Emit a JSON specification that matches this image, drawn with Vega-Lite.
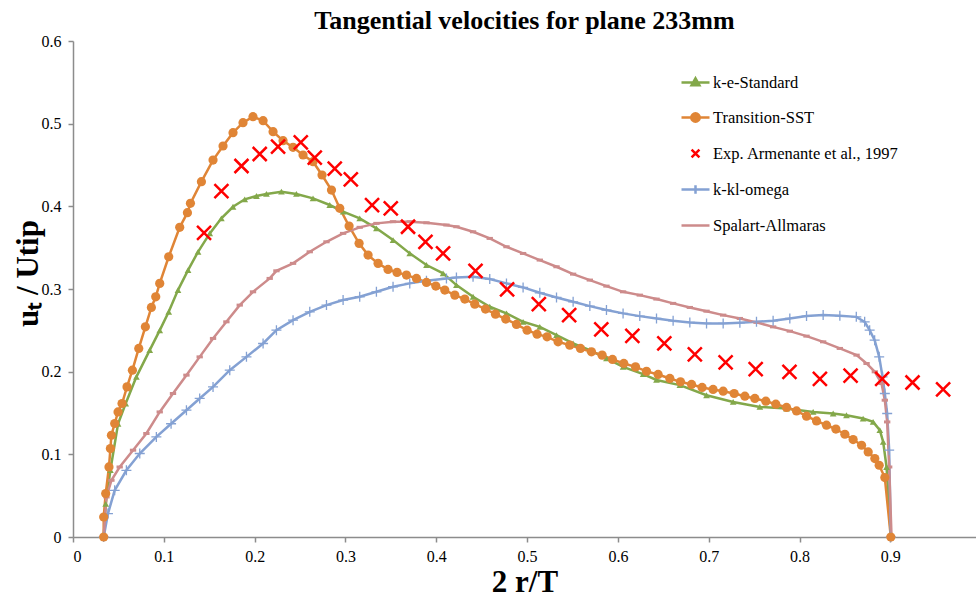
{
  "$schema": "https://vega.github.io/schema/vega-lite/v6.json",
  "autosize": {"type": "none"},
  "padding": {"left": 73, "top": 41, "right": 0, "bottom": 60},
  "width": 903,
  "height": 496,
  "background": "white",
  "config": {
    "font": "Liberation Serif",
    "view": {"stroke": null},
    "axis": {
      "grid": false,
      "domainColor": "#8c8c8c",
      "domainWidth": 1.5,
      "tickColor": "#8c8c8c",
      "tickWidth": 1.5,
      "tickSize": 5,
      "labelColor": "#000000",
      "labelFont": "Liberation Serif",
      "labelFontSize": 16,
      "titleFont": "Liberation Serif",
      "titleFontSize": 31,
      "titleFontWeight": "bold",
      "titleColor": "#000000"
    }
  },
  "title": {
    "text": "Tangential velocities for plane 233mm",
    "font": "Liberation Serif",
    "fontSize": 26,
    "fontWeight": "bold",
    "color": "#000000",
    "anchor": "middle",
    "offset": -1
  },
  "data": {
    "values": [
      {"series": "k-e-Standard", "x": 0.0338, "y": 0},
      {"series": "k-e-Standard", "x": 0.036, "y": 0.04},
      {"series": "k-e-Standard", "x": 0.0412, "y": 0.081},
      {"series": "k-e-Standard", "x": 0.0496, "y": 0.137},
      {"series": "k-e-Standard", "x": 0.058, "y": 0.1615},
      {"series": "k-e-Standard", "x": 0.0698, "y": 0.1937},
      {"series": "k-e-Standard", "x": 0.0845, "y": 0.226},
      {"series": "k-e-Standard", "x": 0.0955, "y": 0.25},
      {"series": "k-e-Standard", "x": 0.1054, "y": 0.2724},
      {"series": "k-e-Standard", "x": 0.1156, "y": 0.2987},
      {"series": "k-e-Standard", "x": 0.1267, "y": 0.3229},
      {"series": "k-e-Standard", "x": 0.1377, "y": 0.345},
      {"series": "k-e-Standard", "x": 0.1506, "y": 0.3673},
      {"series": "k-e-Standard", "x": 0.1634, "y": 0.3855},
      {"series": "k-e-Standard", "x": 0.1762, "y": 0.3995},
      {"series": "k-e-Standard", "x": 0.1891, "y": 0.4085},
      {"series": "k-e-Standard", "x": 0.202, "y": 0.4125},
      {"series": "k-e-Standard", "x": 0.213, "y": 0.415},
      {"series": "k-e-Standard", "x": 0.2295, "y": 0.4177},
      {"series": "k-e-Standard", "x": 0.246, "y": 0.415},
      {"series": "k-e-Standard", "x": 0.2643, "y": 0.4097},
      {"series": "k-e-Standard", "x": 0.2827, "y": 0.4016},
      {"series": "k-e-Standard", "x": 0.2974, "y": 0.3935},
      {"series": "k-e-Standard", "x": 0.3157, "y": 0.3855},
      {"series": "k-e-Standard", "x": 0.3341, "y": 0.3734},
      {"series": "k-e-Standard", "x": 0.3524, "y": 0.3592},
      {"series": "k-e-Standard", "x": 0.3708, "y": 0.3431},
      {"series": "k-e-Standard", "x": 0.3892, "y": 0.329},
      {"series": "k-e-Standard", "x": 0.4075, "y": 0.319},
      {"series": "k-e-Standard", "x": 0.4222, "y": 0.3047},
      {"series": "k-e-Standard", "x": 0.4405, "y": 0.2906},
      {"series": "k-e-Standard", "x": 0.4589, "y": 0.2785},
      {"series": "k-e-Standard", "x": 0.4773, "y": 0.2705},
      {"series": "k-e-Standard", "x": 0.4956, "y": 0.2603},
      {"series": "k-e-Standard", "x": 0.514, "y": 0.2542},
      {"series": "k-e-Standard", "x": 0.5324, "y": 0.2442},
      {"series": "k-e-Standard", "x": 0.5507, "y": 0.2341},
      {"series": "k-e-Standard", "x": 0.5691, "y": 0.226},
      {"series": "k-e-Standard", "x": 0.5874, "y": 0.216},
      {"series": "k-e-Standard", "x": 0.6057, "y": 0.2058},
      {"series": "k-e-Standard", "x": 0.6278, "y": 0.197},
      {"series": "k-e-Standard", "x": 0.6425, "y": 0.19},
      {"series": "k-e-Standard", "x": 0.6682, "y": 0.1837},
      {"series": "k-e-Standard", "x": 0.6976, "y": 0.1715},
      {"series": "k-e-Standard", "x": 0.7269, "y": 0.1634},
      {"series": "k-e-Standard", "x": 0.7563, "y": 0.1574},
      {"series": "k-e-Standard", "x": 0.7857, "y": 0.1554},
      {"series": "k-e-Standard", "x": 0.815, "y": 0.1513},
      {"series": "k-e-Standard", "x": 0.837, "y": 0.1494},
      {"series": "k-e-Standard", "x": 0.8517, "y": 0.1473},
      {"series": "k-e-Standard", "x": 0.87, "y": 0.1433},
      {"series": "k-e-Standard", "x": 0.881, "y": 0.1392},
      {"series": "k-e-Standard", "x": 0.8884, "y": 0.1292},
      {"series": "k-e-Standard", "x": 0.8921, "y": 0.115},
      {"series": "k-e-Standard", "x": 0.8958, "y": 0.0847},
      {"series": "k-e-Standard", "x": 0.9006, "y": 0},

      {"series": "Transition-SST", "x": 0.0338, "y": 0},
      {"series": "Transition-SST", "x": 0.0338, "y": 0.0242},
      {"series": "Transition-SST", "x": 0.036, "y": 0.0525},
      {"series": "Transition-SST", "x": 0.0396, "y": 0.0847},
      {"series": "Transition-SST", "x": 0.0412, "y": 0.107},
      {"series": "Transition-SST", "x": 0.0423, "y": 0.1231},
      {"series": "Transition-SST", "x": 0.0459, "y": 0.1373},
      {"series": "Transition-SST", "x": 0.0496, "y": 0.1513},
      {"series": "Transition-SST", "x": 0.054, "y": 0.1615},
      {"series": "Transition-SST", "x": 0.0595, "y": 0.1816},
      {"series": "Transition-SST", "x": 0.0654, "y": 0.2018},
      {"series": "Transition-SST", "x": 0.0724, "y": 0.2281},
      {"series": "Transition-SST", "x": 0.0797, "y": 0.2542},
      {"series": "Transition-SST", "x": 0.0863, "y": 0.2777},
      {"series": "Transition-SST", "x": 0.0911, "y": 0.2906},
      {"series": "Transition-SST", "x": 0.0955, "y": 0.3068},
      {"series": "Transition-SST", "x": 0.1054, "y": 0.339},
      {"series": "Transition-SST", "x": 0.1175, "y": 0.3746},
      {"series": "Transition-SST", "x": 0.126, "y": 0.3923},
      {"series": "Transition-SST", "x": 0.1293, "y": 0.4036},
      {"series": "Transition-SST", "x": 0.1414, "y": 0.4298},
      {"series": "Transition-SST", "x": 0.1542, "y": 0.456},
      {"series": "Transition-SST", "x": 0.1652, "y": 0.473},
      {"series": "Transition-SST", "x": 0.1762, "y": 0.4891},
      {"series": "Transition-SST", "x": 0.1872, "y": 0.5012},
      {"series": "Transition-SST", "x": 0.1982, "y": 0.5085},
      {"series": "Transition-SST", "x": 0.2093, "y": 0.5036},
      {"series": "Transition-SST", "x": 0.2203, "y": 0.4903},
      {"series": "Transition-SST", "x": 0.2313, "y": 0.4794},
      {"series": "Transition-SST", "x": 0.2423, "y": 0.4714},
      {"series": "Transition-SST", "x": 0.2533, "y": 0.4621},
      {"series": "Transition-SST", "x": 0.2643, "y": 0.454},
      {"series": "Transition-SST", "x": 0.2742, "y": 0.4379},
      {"series": "Transition-SST", "x": 0.2846, "y": 0.4197},
      {"series": "Transition-SST", "x": 0.2937, "y": 0.3976},
      {"series": "Transition-SST", "x": 0.304, "y": 0.3761},
      {"series": "Transition-SST", "x": 0.315, "y": 0.3552},
      {"series": "Transition-SST", "x": 0.3249, "y": 0.341},
      {"series": "Transition-SST", "x": 0.3359, "y": 0.331},
      {"series": "Transition-SST", "x": 0.3469, "y": 0.3237},
      {"series": "Transition-SST", "x": 0.3568, "y": 0.3201},
      {"series": "Transition-SST", "x": 0.3672, "y": 0.3168},
      {"series": "Transition-SST", "x": 0.3782, "y": 0.3128},
      {"series": "Transition-SST", "x": 0.3892, "y": 0.308},
      {"series": "Transition-SST", "x": 0.3995, "y": 0.3035},
      {"series": "Transition-SST", "x": 0.4094, "y": 0.2987},
      {"series": "Transition-SST", "x": 0.4204, "y": 0.2926},
      {"series": "Transition-SST", "x": 0.4314, "y": 0.2878},
      {"series": "Transition-SST", "x": 0.4424, "y": 0.2817},
      {"series": "Transition-SST", "x": 0.4542, "y": 0.2757},
      {"series": "Transition-SST", "x": 0.4652, "y": 0.2696},
      {"series": "Transition-SST", "x": 0.4765, "y": 0.2636},
      {"series": "Transition-SST", "x": 0.4883, "y": 0.2571},
      {"series": "Transition-SST", "x": 0.5, "y": 0.2502},
      {"series": "Transition-SST", "x": 0.511, "y": 0.2454},
      {"series": "Transition-SST", "x": 0.522, "y": 0.2421},
      {"series": "Transition-SST", "x": 0.5341, "y": 0.2361},
      {"series": "Transition-SST", "x": 0.547, "y": 0.2321},
      {"series": "Transition-SST", "x": 0.5588, "y": 0.2281},
      {"series": "Transition-SST", "x": 0.5709, "y": 0.224},
      {"series": "Transition-SST", "x": 0.5826, "y": 0.22},
      {"series": "Transition-SST", "x": 0.594, "y": 0.2148},
      {"series": "Transition-SST", "x": 0.6065, "y": 0.2099},
      {"series": "Transition-SST", "x": 0.6194, "y": 0.2058},
      {"series": "Transition-SST", "x": 0.6315, "y": 0.2004},
      {"series": "Transition-SST", "x": 0.6443, "y": 0.1966},
      {"series": "Transition-SST", "x": 0.6572, "y": 0.1918},
      {"series": "Transition-SST", "x": 0.6689, "y": 0.1877},
      {"series": "Transition-SST", "x": 0.6811, "y": 0.1845},
      {"series": "Transition-SST", "x": 0.6927, "y": 0.1809},
      {"series": "Transition-SST", "x": 0.7048, "y": 0.1785},
      {"series": "Transition-SST", "x": 0.7159, "y": 0.1764},
      {"series": "Transition-SST", "x": 0.728, "y": 0.1736},
      {"series": "Transition-SST", "x": 0.7398, "y": 0.1703},
      {"series": "Transition-SST", "x": 0.7508, "y": 0.1676},
      {"series": "Transition-SST", "x": 0.7629, "y": 0.1643},
      {"series": "Transition-SST", "x": 0.7739, "y": 0.1607},
      {"series": "Transition-SST", "x": 0.7857, "y": 0.1567},
      {"series": "Transition-SST", "x": 0.7967, "y": 0.1525},
      {"series": "Transition-SST", "x": 0.8077, "y": 0.1461},
      {"series": "Transition-SST", "x": 0.8187, "y": 0.1404},
      {"series": "Transition-SST", "x": 0.8297, "y": 0.1352},
      {"series": "Transition-SST", "x": 0.84, "y": 0.1306},
      {"series": "Transition-SST", "x": 0.8499, "y": 0.1243},
      {"series": "Transition-SST", "x": 0.859, "y": 0.1179},
      {"series": "Transition-SST", "x": 0.8683, "y": 0.111},
      {"series": "Transition-SST", "x": 0.8756, "y": 0.1029},
      {"series": "Transition-SST", "x": 0.8829, "y": 0.0949},
      {"series": "Transition-SST", "x": 0.8877, "y": 0.0868},
      {"series": "Transition-SST", "x": 0.8939, "y": 0.0719},
      {"series": "Transition-SST", "x": 0.9005, "y": 0},

      {"series": "Exp. Armenante et al., 1997", "x": 0.1443, "y": 0.368},
      {"series": "Exp. Armenante et al., 1997", "x": 0.1634, "y": 0.4185},
      {"series": "Exp. Armenante et al., 1997", "x": 0.1855, "y": 0.4488},
      {"series": "Exp. Armenante et al., 1997", "x": 0.2056, "y": 0.4633},
      {"series": "Exp. Armenante et al., 1997", "x": 0.2258, "y": 0.4722},
      {"series": "Exp. Armenante et al., 1997", "x": 0.2508, "y": 0.4775},
      {"series": "Exp. Armenante et al., 1997", "x": 0.2662, "y": 0.4588},
      {"series": "Exp. Armenante et al., 1997", "x": 0.2882, "y": 0.4455},
      {"series": "Exp. Armenante et al., 1997", "x": 0.3059, "y": 0.4327},
      {"series": "Exp. Armenante et al., 1997", "x": 0.3293, "y": 0.4016},
      {"series": "Exp. Armenante et al., 1997", "x": 0.3499, "y": 0.3976},
      {"series": "Exp. Armenante et al., 1997", "x": 0.3689, "y": 0.3753},
      {"series": "Exp. Armenante et al., 1997", "x": 0.3881, "y": 0.3571},
      {"series": "Exp. Armenante et al., 1997", "x": 0.4075, "y": 0.3431},
      {"series": "Exp. Armenante et al., 1997", "x": 0.4432, "y": 0.322},
      {"series": "Exp. Armenante et al., 1997", "x": 0.478, "y": 0.2995},
      {"series": "Exp. Armenante et al., 1997", "x": 0.5129, "y": 0.2817},
      {"series": "Exp. Armenante et al., 1997", "x": 0.5463, "y": 0.2684},
      {"series": "Exp. Armenante et al., 1997", "x": 0.5817, "y": 0.2511},
      {"series": "Exp. Armenante et al., 1997", "x": 0.6159, "y": 0.2432},
      {"series": "Exp. Armenante et al., 1997", "x": 0.6511, "y": 0.2341},
      {"series": "Exp. Armenante et al., 1997", "x": 0.6847, "y": 0.2209},
      {"series": "Exp. Armenante et al., 1997", "x": 0.7186, "y": 0.2111},
      {"series": "Exp. Armenante et al., 1997", "x": 0.7517, "y": 0.203},
      {"series": "Exp. Armenante et al., 1997", "x": 0.7889, "y": 0.1998},
      {"series": "Exp. Armenante et al., 1997", "x": 0.8224, "y": 0.1913},
      {"series": "Exp. Armenante et al., 1997", "x": 0.8562, "y": 0.1953},
      {"series": "Exp. Armenante et al., 1997", "x": 0.891, "y": 0.1913},
      {"series": "Exp. Armenante et al., 1997", "x": 0.9244, "y": 0.1869},
      {"series": "Exp. Armenante et al., 1997", "x": 0.9581, "y": 0.1785},

      {"series": "k-kl-omega", "x": 0.0338, "y": 0},
      {"series": "k-kl-omega", "x": 0.0385, "y": 0.0283},
      {"series": "k-kl-omega", "x": 0.0459, "y": 0.0565},
      {"series": "k-kl-omega", "x": 0.0588, "y": 0.0807},
      {"series": "k-kl-omega", "x": 0.0735, "y": 0.101},
      {"series": "k-kl-omega", "x": 0.0918, "y": 0.1211},
      {"series": "k-kl-omega", "x": 0.108, "y": 0.137},
      {"series": "k-kl-omega", "x": 0.1249, "y": 0.1534},
      {"series": "k-kl-omega", "x": 0.1395, "y": 0.1676},
      {"series": "k-kl-omega", "x": 0.1542, "y": 0.1816},
      {"series": "k-kl-omega", "x": 0.1726, "y": 0.2018},
      {"series": "k-kl-omega", "x": 0.191, "y": 0.2179},
      {"series": "k-kl-omega", "x": 0.2093, "y": 0.2341},
      {"series": "k-kl-omega", "x": 0.224, "y": 0.2502},
      {"series": "k-kl-omega", "x": 0.2423, "y": 0.2623},
      {"series": "k-kl-omega", "x": 0.2607, "y": 0.2724},
      {"series": "k-kl-omega", "x": 0.2791, "y": 0.2805},
      {"series": "k-kl-omega", "x": 0.2974, "y": 0.2866},
      {"series": "k-kl-omega", "x": 0.3157, "y": 0.2906},
      {"series": "k-kl-omega", "x": 0.3341, "y": 0.2966},
      {"series": "k-kl-omega", "x": 0.3524, "y": 0.3027},
      {"series": "k-kl-omega", "x": 0.3708, "y": 0.3068},
      {"series": "k-kl-omega", "x": 0.3892, "y": 0.3099},
      {"series": "k-kl-omega", "x": 0.4112, "y": 0.3128},
      {"series": "k-kl-omega", "x": 0.4222, "y": 0.314},
      {"series": "k-kl-omega", "x": 0.4405, "y": 0.3148},
      {"series": "k-kl-omega", "x": 0.4589, "y": 0.312},
      {"series": "k-kl-omega", "x": 0.4773, "y": 0.3068},
      {"series": "k-kl-omega", "x": 0.4956, "y": 0.3019},
      {"series": "k-kl-omega", "x": 0.514, "y": 0.2954},
      {"series": "k-kl-omega", "x": 0.5324, "y": 0.2898},
      {"series": "k-kl-omega", "x": 0.5507, "y": 0.2845},
      {"series": "k-kl-omega", "x": 0.5691, "y": 0.2793},
      {"series": "k-kl-omega", "x": 0.5874, "y": 0.2745},
      {"series": "k-kl-omega", "x": 0.6057, "y": 0.2705},
      {"series": "k-kl-omega", "x": 0.6241, "y": 0.2672},
      {"series": "k-kl-omega", "x": 0.6425, "y": 0.2644},
      {"series": "k-kl-omega", "x": 0.6608, "y": 0.2615},
      {"series": "k-kl-omega", "x": 0.6792, "y": 0.2596},
      {"series": "k-kl-omega", "x": 0.6976, "y": 0.2583},
      {"series": "k-kl-omega", "x": 0.7159, "y": 0.2583},
      {"series": "k-kl-omega", "x": 0.7343, "y": 0.2591},
      {"series": "k-kl-omega", "x": 0.7526, "y": 0.2603},
      {"series": "k-kl-omega", "x": 0.7709, "y": 0.2615},
      {"series": "k-kl-omega", "x": 0.7893, "y": 0.2644},
      {"series": "k-kl-omega", "x": 0.8077, "y": 0.2672},
      {"series": "k-kl-omega", "x": 0.826, "y": 0.2684},
      {"series": "k-kl-omega", "x": 0.8444, "y": 0.2676},
      {"series": "k-kl-omega", "x": 0.8625, "y": 0.2663},
      {"series": "k-kl-omega", "x": 0.8717, "y": 0.2603},
      {"series": "k-kl-omega", "x": 0.8772, "y": 0.2502},
      {"series": "k-kl-omega", "x": 0.8827, "y": 0.2381},
      {"series": "k-kl-omega", "x": 0.8877, "y": 0.2179},
      {"series": "k-kl-omega", "x": 0.8914, "y": 0.1937},
      {"series": "k-kl-omega", "x": 0.8939, "y": 0.1736},
      {"series": "k-kl-omega", "x": 0.8965, "y": 0.1494},
      {"series": "k-kl-omega", "x": 0.8987, "y": 0.105},
      {"series": "k-kl-omega", "x": 0.9005, "y": 0},

      {"series": "Spalart-Allmaras", "x": 0.0338, "y": 0},
      {"series": "Spalart-Allmaras", "x": 0.0368, "y": 0.0484},
      {"series": "Spalart-Allmaras", "x": 0.0423, "y": 0.0686},
      {"series": "Spalart-Allmaras", "x": 0.0514, "y": 0.0847},
      {"series": "Spalart-Allmaras", "x": 0.0661, "y": 0.105},
      {"series": "Spalart-Allmaras", "x": 0.0808, "y": 0.1252},
      {"series": "Spalart-Allmaras", "x": 0.0955, "y": 0.1513},
      {"series": "Spalart-Allmaras", "x": 0.1101, "y": 0.1736},
      {"series": "Spalart-Allmaras", "x": 0.1249, "y": 0.1958},
      {"series": "Spalart-Allmaras", "x": 0.1395, "y": 0.2179},
      {"series": "Spalart-Allmaras", "x": 0.1542, "y": 0.2402},
      {"series": "Spalart-Allmaras", "x": 0.1689, "y": 0.2603},
      {"series": "Spalart-Allmaras", "x": 0.1836, "y": 0.2805},
      {"series": "Spalart-Allmaras", "x": 0.1982, "y": 0.2966},
      {"series": "Spalart-Allmaras", "x": 0.2166, "y": 0.3128},
      {"series": "Spalart-Allmaras", "x": 0.224, "y": 0.322},
      {"series": "Spalart-Allmaras", "x": 0.2423, "y": 0.331},
      {"series": "Spalart-Allmaras", "x": 0.2607, "y": 0.345},
      {"series": "Spalart-Allmaras", "x": 0.2791, "y": 0.3571},
      {"series": "Spalart-Allmaras", "x": 0.2974, "y": 0.3673},
      {"series": "Spalart-Allmaras", "x": 0.3157, "y": 0.3746},
      {"series": "Spalart-Allmaras", "x": 0.3341, "y": 0.3794},
      {"series": "Spalart-Allmaras", "x": 0.3524, "y": 0.3814},
      {"series": "Spalart-Allmaras", "x": 0.3708, "y": 0.3814},
      {"series": "Spalart-Allmaras", "x": 0.3892, "y": 0.3801},
      {"series": "Spalart-Allmaras", "x": 0.4112, "y": 0.3774},
      {"series": "Spalart-Allmaras", "x": 0.4222, "y": 0.3753},
      {"series": "Spalart-Allmaras", "x": 0.4405, "y": 0.3692},
      {"series": "Spalart-Allmaras", "x": 0.4589, "y": 0.3612},
      {"series": "Spalart-Allmaras", "x": 0.4773, "y": 0.3511},
      {"series": "Spalart-Allmaras", "x": 0.4956, "y": 0.343},
      {"series": "Spalart-Allmaras", "x": 0.514, "y": 0.335},
      {"series": "Spalart-Allmaras", "x": 0.5324, "y": 0.3269},
      {"series": "Spalart-Allmaras", "x": 0.5507, "y": 0.318},
      {"series": "Spalart-Allmaras", "x": 0.5691, "y": 0.3108},
      {"series": "Spalart-Allmaras", "x": 0.5874, "y": 0.3035},
      {"series": "Spalart-Allmaras", "x": 0.6057, "y": 0.2966},
      {"series": "Spalart-Allmaras", "x": 0.6241, "y": 0.2926},
      {"series": "Spalart-Allmaras", "x": 0.6425, "y": 0.2878},
      {"series": "Spalart-Allmaras", "x": 0.6608, "y": 0.2826},
      {"series": "Spalart-Allmaras", "x": 0.6792, "y": 0.2777},
      {"series": "Spalart-Allmaras", "x": 0.6976, "y": 0.2732},
      {"series": "Spalart-Allmaras", "x": 0.7159, "y": 0.2684},
      {"series": "Spalart-Allmaras", "x": 0.7343, "y": 0.2644},
      {"series": "Spalart-Allmaras", "x": 0.7526, "y": 0.2596},
      {"series": "Spalart-Allmaras", "x": 0.7709, "y": 0.2542},
      {"series": "Spalart-Allmaras", "x": 0.7893, "y": 0.249},
      {"series": "Spalart-Allmaras", "x": 0.8077, "y": 0.243},
      {"series": "Spalart-Allmaras", "x": 0.826, "y": 0.2361},
      {"series": "Spalart-Allmaras", "x": 0.8444, "y": 0.2281},
      {"series": "Spalart-Allmaras", "x": 0.8628, "y": 0.22},
      {"series": "Spalart-Allmaras", "x": 0.8738, "y": 0.2099},
      {"series": "Spalart-Allmaras", "x": 0.8829, "y": 0.1998},
      {"series": "Spalart-Allmaras", "x": 0.8903, "y": 0.1857},
      {"series": "Spalart-Allmaras", "x": 0.8939, "y": 0.1655},
      {"series": "Spalart-Allmaras", "x": 0.8965, "y": 0.1392},
      {"series": "Spalart-Allmaras", "x": 0.8987, "y": 0.0847},
      {"series": "Spalart-Allmaras", "x": 0.9013, "y": 0}
    ]
  },
  "encoding": {
    "x": {
      "field": "x",
      "type": "quantitative",
      "title": "2 r/T",
      "scale": {"domain": [0, 0.9943], "nice": false, "zero": false},
      "axis": {
        "values": [0, 0.1, 0.2, 0.3, 0.4, 0.5, 0.6, 0.7, 0.8, 0.9],
        "format": "~g",
        "labelPadding": 6,
        "titlePadding": 3
      }
    },
    "y": {
      "field": "y",
      "type": "quantitative",
      "title": "uₜ / Utip",
      "scale": {"domain": [0, 0.6], "nice": false},
      "axis": {
        "values": [0, 0.1, 0.2, 0.3, 0.4, 0.5, 0.6],
        "format": "~g",
        "labelPadding": 7,
        "titlePadding": -3,
        "titleY": 232
      }
    },
    "color": {
      "field": "series",
      "type": "nominal",
      "scale": {
        "domain": ["k-e-Standard", "Transition-SST", "Exp. Armenante et al., 1997", "k-kl-omega", "Spalart-Allmaras"],
        "range": ["#83A84A", "#E08536", "#FF0000", "#84A1D3", "#CD8B8B"]
      },
      "legend": {
        "title": null,
        "orient": "none",
        "legendX": 607,
        "legendY": 26,
        "symbolSize": 784,
        "symbolStrokeWidth": 2.5,
        "labelFont": "Liberation Serif",
        "labelFontSize": 16.5,
        "labelColor": "#000000",
        "labelOffset": 2,
        "labelLimit": 400,
        "rowPadding": 11,
        "padding": 0,
        "encode": {
          "symbols": {
            "update": {
              "shape": {"signal": "datum.value === 'k-e-Standard' ? 'M-1,0H1M0,-0.3L0.28,0.2L-0.28,0.2Z' : datum.value === 'Transition-SST' ? 'M-1,0H1M-0.3,0A0.3,0.3 0 1,0 0.3,0A0.3,0.3 0 1,0 -0.3,0Z' : datum.value === 'k-kl-omega' ? 'M-1,0H1M0,-0.3V0.3' : datum.value === 'Spalart-Allmaras' ? 'M-1,0H1' : 'M-0.28,-0.28L0.28,0.28M0.28,-0.28L-0.28,0.28'"},
              "fill": {"signal": "datum.value === 'k-e-Standard' ? '#83A84A' : datum.value === 'Transition-SST' ? '#E08536' : 'transparent'"},
              "stroke": {"scale": "color", "field": "value"},
              "strokeWidth": {"value": 2.5},
              "opacity": {"value": 1}
            }
          }
        }
      }
    }
  },
  "layer": [
    {
      "transform": [{"filter": "datum.series !== 'Exp. Armenante et al., 1997'"}],
      "mark": {"type": "line", "strokeWidth": 2.5, "interpolate": "linear"}
    },
    {
      "transform": [{"filter": "datum.series === 'Spalart-Allmaras'"}],
      "mark": {"type": "point", "shape": "M-1,0H1", "filled": false, "size": 40, "strokeWidth": 3, "opacity": 1}
    },
    {
      "transform": [{"filter": "datum.series === 'k-kl-omega'"}],
      "mark": {"type": "point", "shape": "M-1,0H1M0,-1V1", "filled": false, "size": 100, "strokeWidth": 1.3, "opacity": 1}
    },
    {
      "transform": [{"filter": "datum.series === 'k-e-Standard'"}],
      "mark": {"type": "point", "shape": "triangle-up", "filled": true, "size": 45, "opacity": 1}
    },
    {
      "transform": [{"filter": "datum.series === 'Transition-SST'"}],
      "mark": {"type": "point", "shape": "circle", "filled": true, "size": 85, "opacity": 1}
    },
    {
      "transform": [{"filter": "datum.series === 'Exp. Armenante et al., 1997'"}],
      "mark": {"type": "point", "shape": "M-1,-1L1,1M1,-1L-1,1", "filled": false, "size": 196, "strokeWidth": 2.5, "opacity": 1}
    }
  ]
}
